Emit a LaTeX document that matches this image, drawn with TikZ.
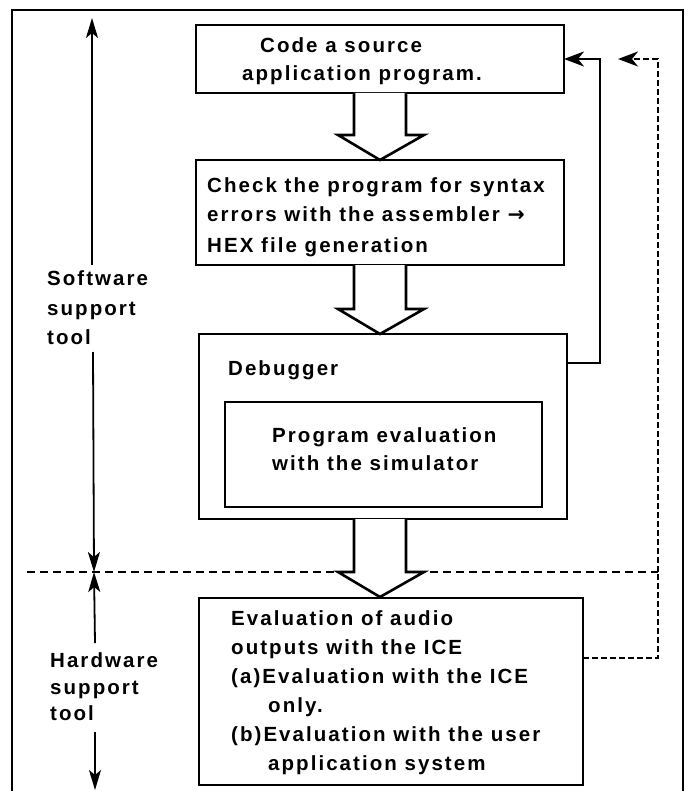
\documentclass[tikz,border=0pt]{standalone}
\usepackage{fontspec}
\setmainfont{Liberation Sans}[LetterSpace=10]
\newfontfamily\arrowfont{DejaVu Sans}
\usetikzlibrary{arrows.meta,calc}
\begin{document}
\begin{tikzpicture}[x=1pt,y=-1pt,
  frame/.style={line width=2.6pt},
  box/.style={draw,line width=2.6pt,anchor=north west,inner sep=0pt,outer sep=0pt,fill=white},
  txt/.style={anchor=base west,inner sep=0pt,font=\bfseries\fontsize{20.5}{22}\selectfont},
  blk/.style={line width=2.6pt,fill=white,line join=miter,
    to path={let \p1=(\tikztostart),\p2=(\tikztotarget) in
      ({\x1-26pt},\y1) -- ({\x1-26pt},{\y2+25pt}) -- ({\x1-42pt},{\y2+25pt}) -- (\x1,\y2)
      -- ({\x1+44pt},{\y2+25pt}) -- ({\x1+26pt},{\y2+25pt}) -- ({\x1+26pt},\y1)}},
  fb/.style={line width=2.4pt,-{Stealth[length=20pt,width=15pt,inset=6pt]}},
  dsh/.style={line width=1.8pt,dash pattern=on 8pt off 5pt},
  dot/.style={line width=1.8pt,dash pattern=on 6pt off 3pt},
  dim/.style={line width=1.8pt},
  dimtip/.style={-{Stealth[length=20pt,width=12pt,inset=5pt]}}]
\useasboundingbox (0,0) rectangle (689,791);
% outer frame
\coordinate (fbl) at (12,791);
\coordinate (ftl) at (12,10);
\coordinate (ftr) at (683,10);
\coordinate (fbr) at (683,791);
\draw[frame] (fbl) -- (ftl) -- (ftr) -- (fbr);
% boxes
\node[box,minimum width=368pt,minimum height=68pt] (b1) at (196,25) {};
\node[box,minimum width=368pt,minimum height=105pt] (b2) at (196,160) {};
\node[box,minimum width=368pt,minimum height=185pt] (dbg) at (199,334) {};
\node[box,minimum width=317pt,minimum height=105pt] (sim) at (225,402) {};
\node[box,minimum width=384pt,minimum height=187pt] (b4) at (199,598) {};
% texts
\node[txt] (t1a) at (260,53) {Code a source};
\node[txt] (t1b) at (242,81) {application program.};
\node[txt] (t2a) at (207,193) {Check the program for syntax};
\node[txt] (t2b) at (207,222) {errors with the assembler {\arrowfont\bfseries →}};
\node[txt] (t2c) at (207,252) {HEX file generation};
\node[txt] (t3) at (228,375) {Debugger};
\node[txt] (t3a) at (272,442) {Program evaluation};
\node[txt] (t3b) at (272,470) {with the simulator};
\node[txt] (t4a) at (231,625) {Evaluation of audio};
\node[txt] (t4b) at (231,654) {outputs with the ICE};
\node[txt] (t4c) at (231,683) {(a)Evaluation with the ICE};
\node[txt] (t4d) at (268,712) {only.};
\node[txt] (t4e) at (231,741) {(b)Evaluation with the user};
\node[txt] (t4f) at (268,770) {application system};
\node[txt] (sw1) at (47,285) {Software};
\node[txt] (sw2) at (47,315) {support};
\node[txt] (sw3) at (47,344) {tool};
\node[txt] (hw1) at (50,667) {Hardware};
\node[txt] (hw2) at (50,694) {support};
\node[txt] (hw3) at (50,720) {tool};
% dashed separator
\coordinate (sepl) at (27,572);
\coordinate (sepr) at (658,572);
\draw[dsh] (sepl) -- (sepr);
% block arrows
\draw[blk] (b1.south) to (b2.north);
\draw[blk] (b2.south) to (dbg.north -| b2.north);
\draw[blk] (dbg.south -| b2.north) to ([yshift=1pt]b4.north -| b2.north);
% solid feedback
\coordinate (fbx) at (600,0);
\draw[fb] ([yshift=-29pt]dbg.north east) -| (fbx |- b1.east) -- (b1.east);
% dotted/dashed feedback
\coordinate (dx) at (658,0);
\coordinate (dend) at (618,0);
\draw[dot] ([yshift=-60pt]b4.north east) -| (dx |- sepr);
\draw[dot,-{Stealth[length=20pt,width=15pt,inset=6pt]}] (dx |- sepr) |- (dend |- b1.east);
% dimension arrows
\coordinate (d1) at (92,18);
\coordinate (d2) at (92,265);
\coordinate (d3) at (93,352);
\coordinate (d4) at (94,572);
\coordinate (d5) at (95,643);
\coordinate (d6) at (95,732);
\coordinate (d7) at (95,790);
\draw[dim,dimtip] (d2) -- (d1);
\draw[dim,dimtip] (d3) -- (d4);
\draw[dim,dimtip] (d5) -- (d4);
\draw[dim,dimtip] (d6) -- (d7);
\end{tikzpicture}
\end{document}
